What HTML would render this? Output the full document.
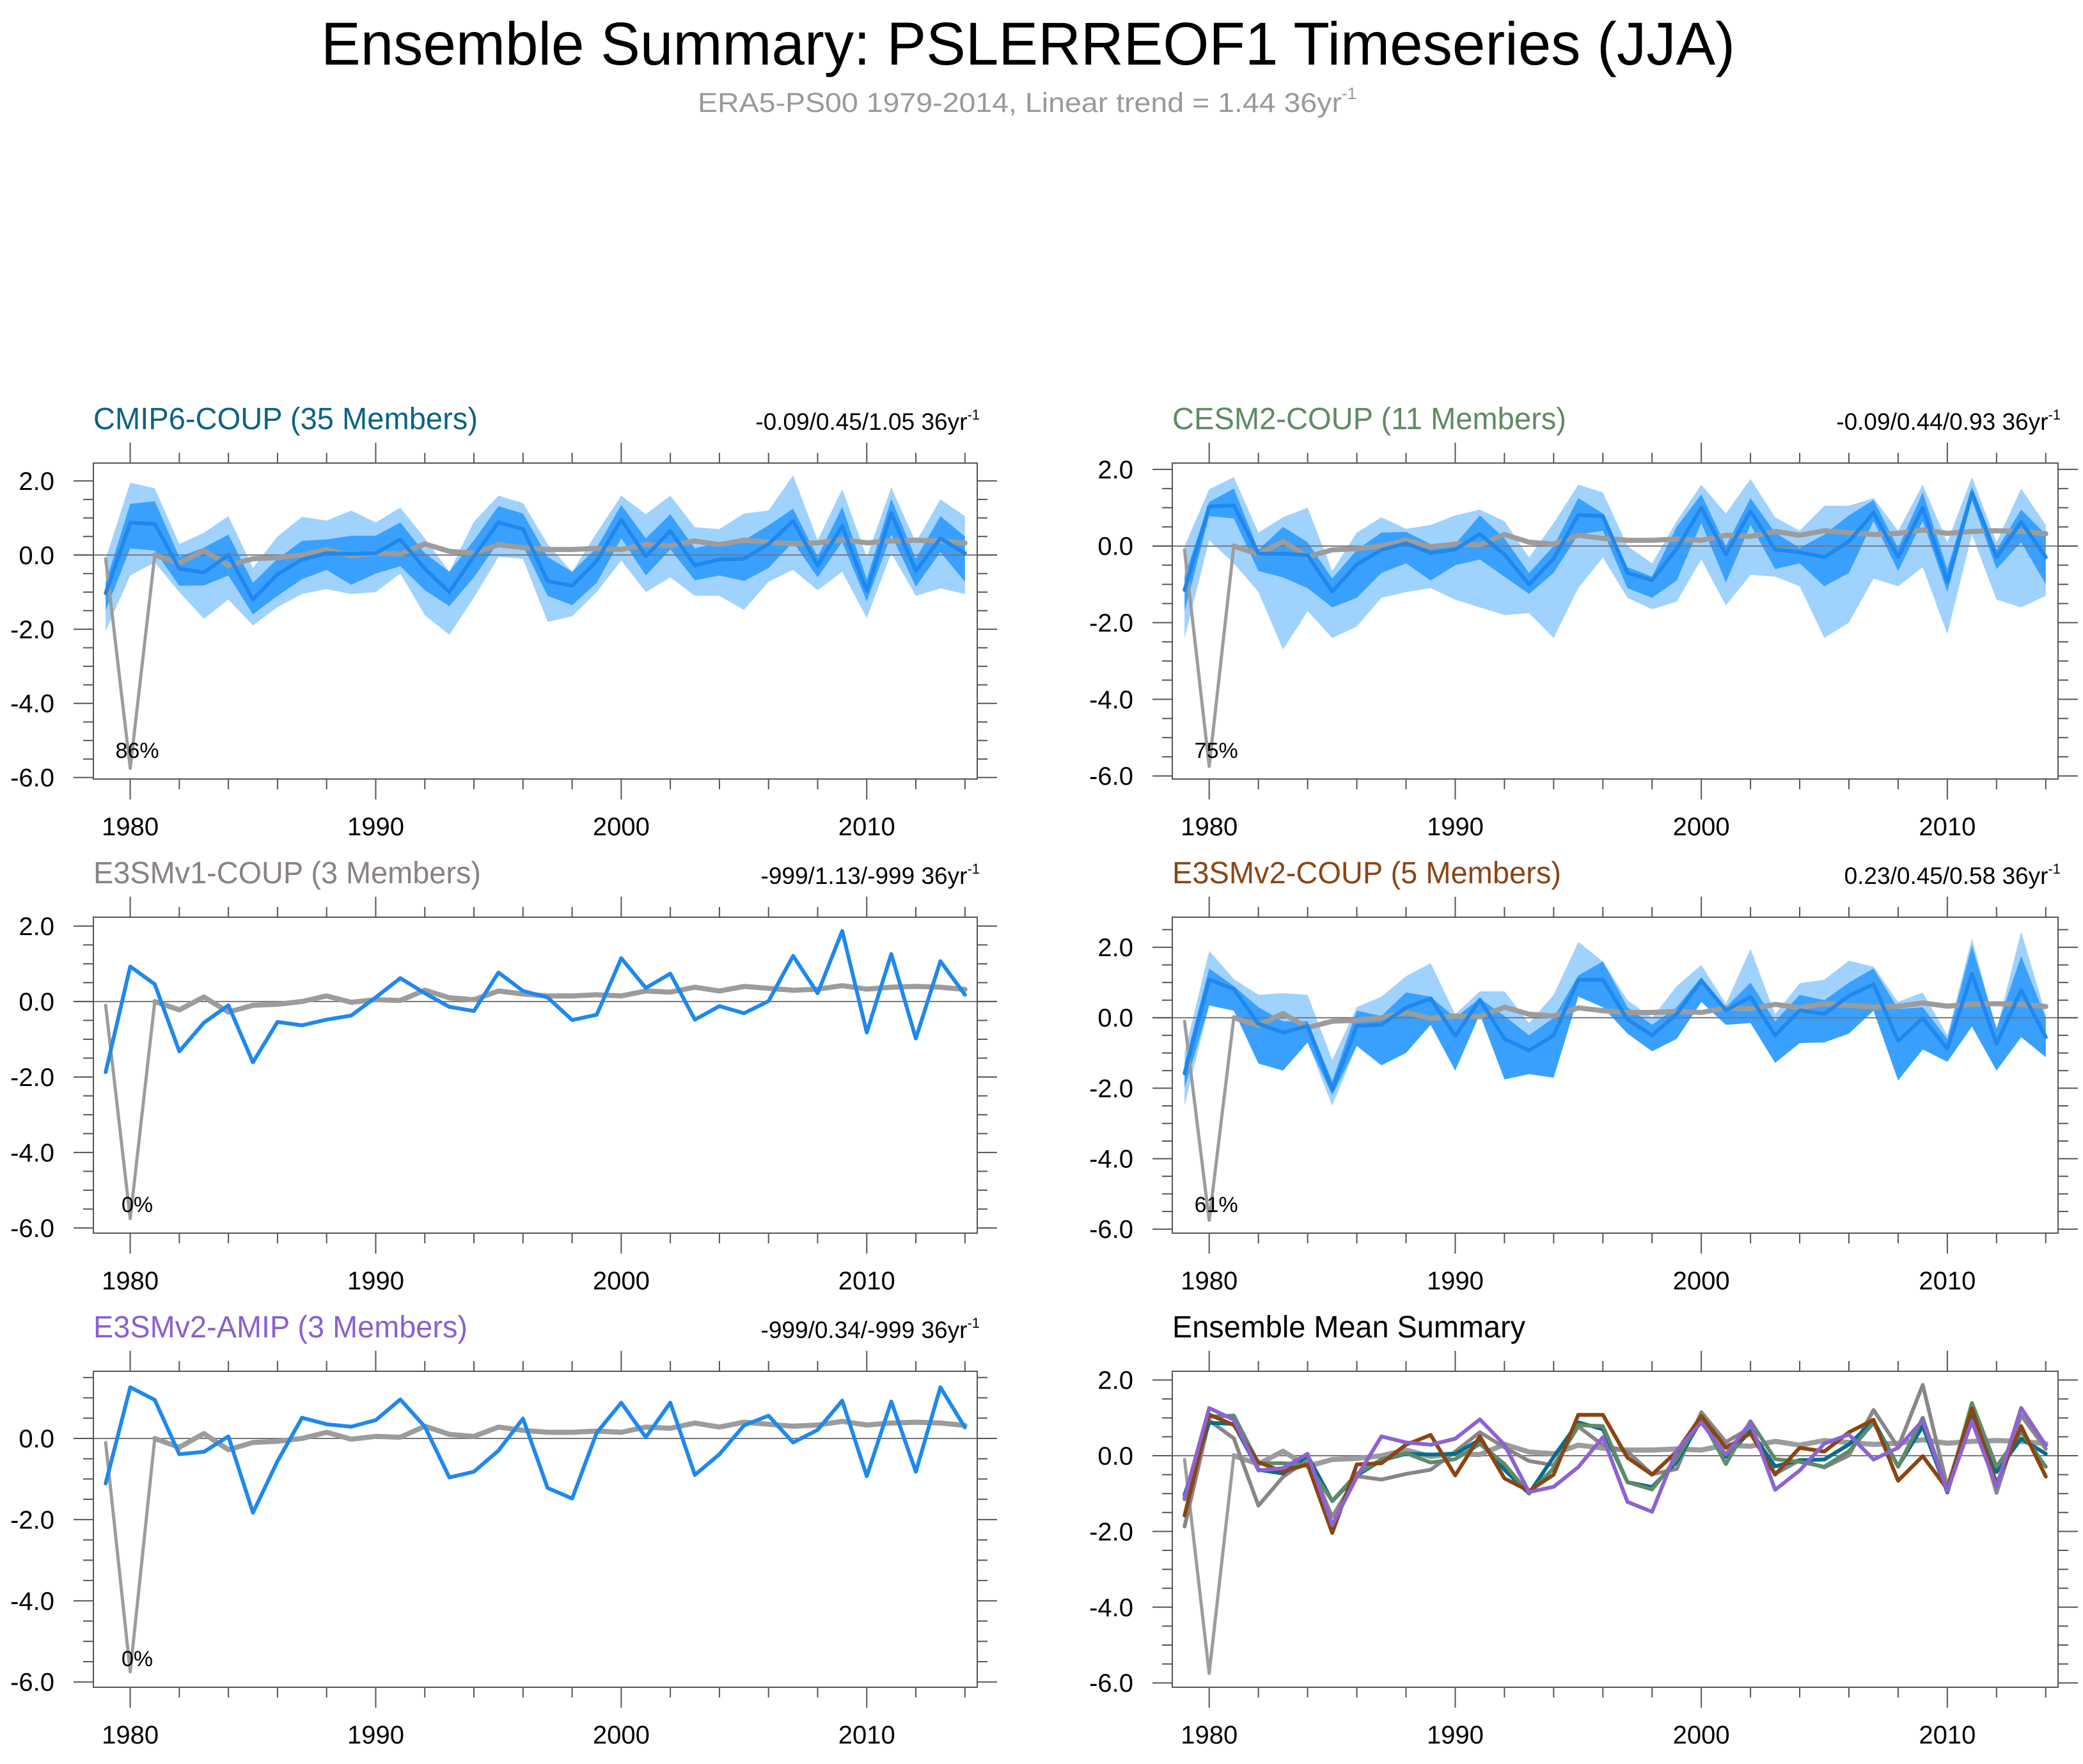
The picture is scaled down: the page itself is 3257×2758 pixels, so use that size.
<!DOCTYPE html>
<html><head><meta charset="utf-8">
<style>
html,body{margin:0;padding:0;background:#fff;}
svg{display:block;font-family:"Liberation Sans",Arial,sans-serif;}
</style></head>
<body>
<svg id="fig" xmlns="http://www.w3.org/2000/svg" width="3257" height="2758" viewBox="0 0 3257 2758">
<rect width="3257" height="2758" fill="#fff"/>
<text x="502" y="101" font-size="95" textLength="2211" lengthAdjust="spacingAndGlyphs" fill="#000">Ensemble Summary: PSLERREOF1 Timeseries (JJA)</text>
<text x="1091" y="175" font-size="43" fill="#999"><tspan textLength="1007" lengthAdjust="spacingAndGlyphs">ERA5-PS00 1979-2014, Linear trend = 1.44 36yr</tspan><tspan font-size="26" dy="-20">-1</tspan></text>
</svg>
<script>
const years = [];
for (let y = 1979; y <= 2014; y++) years.push(y);
const xTickMajor = [1980, 1990, 2000, 2010];
const xTickLabels = ["1980", "1990", "2000", "2010"];
const yTickValues = [2, 0, -2, -4, -6];
const yTickLabels = ["2.0", "0.0", "-2.0", "-4.0", "-6.0"];

const obs = [-0.1,-5.75,0.0,-0.22,0.12,-0.28,-0.1,-0.07,0.0,0.15,-0.02,0.05,0.03,0.3,0.1,0.05,0.28,0.2,0.15,0.15,0.18,0.15,0.28,0.25,0.38,0.28,0.4,0.35,0.3,0.33,0.42,0.33,0.38,0.4,0.38,0.32];

const cmip6Mean = [-1.03,0.87,0.84,-0.37,-0.47,0.0,-1.2,-0.52,-0.12,0.05,0.03,0.05,0.42,-0.37,-1.0,-0.03,0.88,0.7,-0.7,-0.83,-0.16,0.95,-0.03,0.65,-0.28,-0.12,-0.1,0.3,0.92,-0.28,0.78,-0.97,1.13,-0.43,0.45,0.05];
const cmip6DarkHi = [-0.75,1.38,1.45,-0.05,0.2,0.55,-0.75,-0.1,0.38,0.42,0.52,0.52,0.88,0.05,-0.45,0.4,1.32,1.12,-0.05,-0.45,0.2,1.35,0.45,1.1,0.18,0.35,0.4,0.8,1.25,-0.05,1.3,-0.65,1.52,-0.1,1.05,0.5];
const cmip6DarkLo = [-1.5,0.18,0.12,-0.83,-0.82,-0.55,-1.6,-1.1,-0.65,-0.4,-0.8,-0.5,-0.3,-0.95,-1.38,-0.6,0.35,0.25,-1.1,-1.35,-0.75,0.45,-0.55,0.15,-0.68,-0.55,-0.7,-0.35,0.35,-0.6,0.35,-1.25,0.55,-0.85,0.08,-0.72];
const cmip6LightHi = [-0.1,1.95,1.8,0.3,0.6,1.05,-0.35,0.5,1.03,0.93,1.2,0.88,1.28,0.45,-0.45,0.9,1.6,1.4,0.3,-0.45,0.6,1.6,1.1,1.6,0.75,0.7,1.12,1.2,2.15,0.4,1.78,-0.05,1.82,0.35,1.5,1.05];
const cmip6LightLo = [-2.05,-0.55,-0.2,-1.0,-1.72,-1.2,-1.9,-1.4,-1.05,-0.92,-1.05,-1.0,-0.5,-1.62,-2.15,-1.15,-0.05,-0.1,-1.8,-1.65,-1.0,-0.15,-1.0,-0.6,-1.1,-1.1,-1.48,-0.72,-0.4,-0.95,-0.45,-1.7,0.05,-1.1,-0.9,-1.05];

const cesm2Mean = [-1.15,1.03,1.06,-0.2,-0.2,-0.24,-1.19,-0.48,-0.1,0.07,-0.18,-0.09,0.31,-0.22,-1.0,-0.33,0.81,0.78,-0.7,-0.89,-0.07,1.0,-0.22,0.91,-0.09,-0.16,-0.29,0.12,0.87,-0.29,1.0,-0.93,1.39,-0.29,0.63,-0.29];
const cesm2DarkHi = [-0.8,1.15,1.5,-0.1,0.5,0.1,-0.85,-0.1,0.35,0.37,0.05,0.05,0.8,0.2,-0.7,0.0,1.25,0.85,-0.55,-0.8,0.5,1.35,0.0,1.25,0.35,-0.05,0.3,0.8,1.2,-0.05,1.4,-0.6,1.55,-0.1,0.95,0.3];
const cesm2DarkLo = [-1.7,0.78,0.72,-0.65,-0.82,-1.1,-1.6,-1.35,-0.7,-0.45,-0.9,-0.5,-0.35,-0.8,-1.25,-0.7,0.3,0.4,-1.1,-1.35,-0.9,0.6,-0.95,0.55,-0.6,-0.45,-1.05,-0.7,0.65,-0.65,0.65,-1.2,1.2,-0.6,0.1,-1.0];
const cesm2LightHi = [0.0,1.48,1.8,0.35,0.75,1.0,-0.65,0.35,0.75,0.45,0.55,0.8,0.95,0.65,-0.3,0.6,1.6,1.4,0.0,-0.45,0.65,1.6,0.85,1.75,0.75,0.4,1.05,1.05,1.25,0.4,1.6,0.1,1.8,0.1,1.5,0.55];
const cesm2LightLo = [-2.4,0.15,-0.45,-1.2,-2.7,-1.7,-2.4,-2.1,-1.35,-1.2,-1.1,-1.4,-1.6,-1.8,-1.75,-2.4,-1.1,-0.3,-1.35,-1.65,-1.45,-0.35,-1.55,-0.75,-0.8,-1.05,-2.4,-2.0,-0.85,-1.05,-0.55,-2.3,0.3,-1.4,-1.6,-1.3];

const e3v1Mean = [-1.87,0.93,0.46,-1.32,-0.56,-0.1,-1.61,-0.54,-0.63,-0.48,-0.37,0.11,0.62,0.22,-0.14,-0.25,0.77,0.28,0.11,-0.49,-0.35,1.15,0.36,0.74,-0.48,-0.12,-0.31,0.01,1.21,0.22,1.87,-0.82,1.26,-0.98,1.07,0.18];

const e3v2Mean = [-1.58,1.09,0.81,-0.17,-0.42,-0.23,-2.04,-0.23,-0.2,0.29,0.55,-0.52,0.51,-0.6,-0.93,-0.5,1.08,1.08,-0.05,-0.5,0.11,1.05,0.21,0.59,-0.5,0.21,0.11,0.62,0.95,-0.66,-0.01,-0.88,1.25,-0.74,0.78,-0.55];
const e3v2DarkHi = [-1.3,1.4,0.9,0.3,-0.1,-0.1,-1.8,0.2,0.05,0.72,0.6,0.0,0.55,0.05,-0.5,0.0,1.2,1.6,0.3,-0.2,0.3,1.15,0.3,1.0,-0.1,0.65,0.5,1.0,1.4,0.25,0.3,-0.6,2.05,-0.3,1.75,0.0];
const e3v2DarkLo = [-2.0,0.35,0.2,-1.3,-1.5,-0.7,-2.2,-0.8,-1.35,-1.0,-0.2,-1.5,0.1,-1.75,-1.6,-1.7,0.6,0.3,-0.45,-0.95,-0.6,0.45,-0.2,-0.15,-1.28,-0.72,-0.7,-0.45,0.2,-1.78,-0.9,-1.25,-0.25,-1.5,-0.55,-1.12];
const e3v2LightHi = [-1.0,1.9,1.1,0.65,0.7,0.65,-1.2,0.3,0.6,1.18,1.55,0.1,0.75,0.75,-0.15,0.65,2.15,1.6,0.5,0.0,0.9,1.5,0.4,1.95,0.1,0.98,1.08,1.62,1.45,0.45,0.72,-0.5,2.25,-0.35,2.45,0.1];
const e3v2LightLo = [-2.5,0.35,0.2,-1.3,-1.5,-0.7,-2.5,-0.8,-1.35,-1.0,-0.2,-1.5,0.1,-1.75,-1.6,-1.7,0.6,0.3,-0.45,-0.95,-0.6,0.45,-0.2,-0.15,-1.28,-0.72,-0.7,-0.45,0.2,-1.78,-0.9,-1.25,-0.25,-1.5,-0.55,-1.12];

const amipMean = [-1.11,1.26,0.95,-0.39,-0.33,0.05,-1.83,-0.56,0.51,0.35,0.29,0.45,0.96,0.29,-0.96,-0.82,-0.3,0.49,-1.22,-1.48,0.14,0.88,0.03,0.88,-0.9,-0.39,0.32,0.56,-0.1,0.21,0.93,-0.93,0.91,-0.82,1.26,0.27];

const NS = "http://www.w3.org/2000/svg";
const svg = document.getElementById("fig");
function mk(tag, attrs, parent) {
  const e = document.createElementNS(NS, tag);
  for (const k in attrs) e.setAttribute(k, attrs[k]);
  (parent || svg).appendChild(e);
  return e;
}

const C_LIGHT = "#a0d2fe", C_DARK = "#3aa0fe", C_LINE = "#1e88ee", C_OBS = "#9c9c9c", C_AX = "#555";

const panels = [
  {key:"cmip6", x0:146, x1:1528, y0:724, y1:1218, ymin:-6.04, ymax:2.48, title:"CMIP6-COUP (35 Members)", tw:601, tcol:"#0b6384", stats:"-0.09/0.45/1.05 36yr", pct:"86%",
   bands:[cmip6LightHi,cmip6LightLo,cmip6DarkHi,cmip6DarkLo], mean:cmip6Mean},
  {key:"cesm2", x0:1833, x1:3218, y0:724, y1:1218, ymin:-6.08, ymax:2.165, title:"CESM2-COUP (11 Members)", tw:616, tcol:"#5e8a64", stats:"-0.09/0.44/0.93 36yr", pct:"75%",
   bands:[cesm2LightHi,cesm2LightLo,cesm2DarkHi,cesm2DarkLo], mean:cesm2Mean},
  {key:"e3smv1", x0:146, x1:1528, y0:1434, y1:1928, ymin:-6.137, ymax:2.236, title:"E3SMv1-COUP (3 Members)", tw:606, tcol:"#8a8282", stats:"-999/1.13/-999 36yr", pct:"0%",
   bands:null, mean:e3v1Mean},
  {key:"e3smv2", x0:1833, x1:3218, y0:1434, y1:1928, ymin:-6.114, ymax:2.855, title:"E3SMv2-COUP (5 Members)", tw:608, tcol:"#8b4513", stats:"0.23/0.45/0.58 36yr", pct:"61%",
   bands:[e3v2LightHi,e3v2LightLo,e3v2DarkHi,e3v2DarkLo], mean:e3v2Mean},
  {key:"amip", x0:146, x1:1528, y0:2144, y1:2638, ymin:-6.13, ymax:1.654, title:"E3SMv2-AMIP (3 Members)", tw:585, tcol:"#8a5fd0", stats:"-999/0.34/-999 36yr", pct:"0%",
   bands:null, mean:amipMean},
  {key:"summary", x0:1833, x1:3218, y0:2144, y1:2638, ymin:-6.115, ymax:2.23, title:"Ensemble Mean Summary", tw:552, tcol:"#000", stats:null, pct:null,
   bands:null, mean:null}
];

const summarySeries = [
  {name:"e3smv1-mean-line", data:e3v1Mean, col:"#8c8587"},
  {name:"cmip6-mean-line", data:cmip6Mean, col:"#006e8c"},
  {name:"cesm2-mean-line", data:cesm2Mean, col:"#5f8b68"},
  {name:"e3smv2-coup-mean-line", data:e3v2Mean, col:"#8b4513"},
  {name:"e3smv2-amip-mean-line", data:amipMean, col:"#8c63d2"}
];

panels.forEach(p => {
  const g = mk("g", {});
  
  
  const xs = y => p.x0 + (y - 1978.5) / 36 * (p.x1 - p.x0);
  const ys = v => p.y1 - (v - p.ymin) / (p.ymax - p.ymin) * (p.y1 - p.y0);
  const pts = arr => arr.map((v, i) => xs(years[i]).toFixed(1) + "," + ys(v).toFixed(1)).join(" ");
  const area = (hi, lo) => {
    const a = hi.map((v, i) => xs(years[i]).toFixed(1) + "," + ys(v).toFixed(1));
    const b = lo.map((v, i) => xs(years[i]).toFixed(1) + "," + ys(v).toFixed(1)).reverse();
    return a.concat(b).join(" ");
  };

  const t = mk("text", {x:p.x0, y:p.y0 - 53, "font-size":48, fill:p.tcol, textLength:p.tw, lengthAdjust:"spacingAndGlyphs"}, g);
  
  
  t.textContent = p.title;
  if (p.stats) {
    const s = mk("text", {x:p.x1 + 4, y:p.y0 - 52, "font-size":37, fill:"#000", "text-anchor":"end"}, g);
    
    
    const t1 = mk("tspan", {}, s); t1.textContent = p.stats;
    const t2 = mk("tspan", {"font-size":22, dy:-16}, s); t2.textContent = "-1";
  }

  if (p.bands) {
    const l = mk("polygon", {points:area(p.bands[0], p.bands[1]), fill:C_LIGHT}, g);
    
    
    const d = mk("polygon", {points:area(p.bands[2], p.bands[3]), fill:C_DARK}, g);
    
    
  }

  const z = mk("line", {x1:p.x0 - 31, x2:p.x1 + 31, y1:ys(0), y2:ys(0), stroke:"#777", "stroke-width":2}, g);
  
  

  const o1 = mk("polyline", {points:pts(obs.slice(0, 3)), fill:"none", stroke:C_OBS, "stroke-width":5, "stroke-linejoin":"round", "stroke-linecap":"round"}, g);
  
  
  const op = obs.map((v, i) => [xs(years[i]), ys(v)]).slice(2).map(q => q[0].toFixed(1) + "," + q[1].toFixed(1)).join(" ");
  const o2 = mk("polyline", {points:op, fill:"none", stroke:C_OBS, "stroke-width":8, "stroke-linejoin":"round", "stroke-linecap":"round"}, g);
  
  

  if (p.mean) {
    const m = mk("polyline", {points:pts(p.mean), fill:"none", stroke:C_LINE, "stroke-width":6, "stroke-linejoin":"round", "stroke-linecap":"round"}, g);
    
    
  } else {
    summarySeries.forEach(s => {
      const m = mk("polyline", {points:pts(s.data), fill:"none", stroke:s.col, "stroke-width":6, "stroke-linejoin":"round", "stroke-linecap":"round"}, g);
      
      
    });
  }

  if (p.pct) {
    const pc = mk("text", {x:xs(1980) + 11, y:p.y1 - 33, "font-size":34, fill:"#000", "text-anchor":"middle"}, g);
    
    
    pc.textContent = p.pct;
  }

  const b = mk("rect", {x:p.x0, y:p.y0, width:p.x1 - p.x0, height:p.y1 - p.y0, fill:"none", stroke:C_AX, "stroke-width":2}, g);
  
  

  for (let yr = 1980; yr <= 2014; yr += 2) {
    const major = xTickMajor.indexOf(yr) >= 0;
    const L = major ? 32 : 16;
    const x = xs(yr);
    const tk = mk("path", {d:`M${x},${p.y0}v${-L}M${x},${p.y1}v${L}`, stroke:C_AX, "stroke-width":2}, g);
    
    
  }
  xTickMajor.forEach((yr, i) => {
    const lb = mk("text", {x:xs(yr), y:p.y1 + 88, "font-size":40, "text-anchor":"middle", fill:"#000"}, g);
    
    
    lb.textContent = xTickLabels[i];
  });
  for (let v = -6; v <= p.ymax + 1e-9; v += 0.5) {
    if (v < p.ymin) continue;
    const major = Math.abs(v / 2 - Math.round(v / 2)) < 1e-6;
    const L = major ? 31 : 16;
    const y = ys(v);
    const tk = mk("path", {d:`M${p.x0},${y}h${-L}M${p.x1},${y}h${L}`, stroke:C_AX, "stroke-width":2}, g);
    
    
  }
  yTickValues.forEach((v, i) => {
    if (v > p.ymax || v < p.ymin) return;
    const lb = mk("text", {x:p.x0 - 61, y:ys(v) + 14, "font-size":40, "text-anchor":"end", fill:"#000"}, g);
    
    
    lb.textContent = yTickLabels[i];
  });
});
</script>
</body></html>
